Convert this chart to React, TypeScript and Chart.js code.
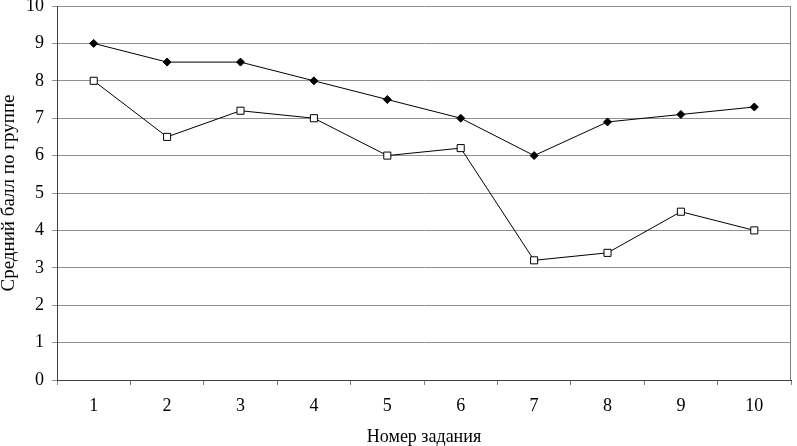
import React, { useEffect, useRef } from "react";
import { Chart, registerables } from "chart.js";

Chart.register(...registerables);

const categories = ["1", "2", "3", "4", "5", "6", "7", "8", "9", "10"];
const seriesA = [9, 8.5, 8.5, 8, 7.5, 7, 6, 6.9, 7.1, 7.3];
const seriesB = [8, 6.5, 7.2, 7, 6, 6.2, 3.2, 3.4, 4.5, 4];
const yTitle = "Средний балл по группе";
const xTitle = "Номер задания";

const FONT = "'Liberation Serif', 'Times New Roman', serif";

export default function App() {
  const ref = useRef<HTMLCanvasElement | null>(null);

  useEffect(() => {
    if (!ref.current) return;
    const chart = new Chart(ref.current, {
      type: "line",
      data: {
        labels: categories,
        datasets: [
          {
            data: seriesA,
            borderColor: "#000",
            borderWidth: 1,
            pointStyle: "rectRot",
            pointRadius: 4,
            pointBackgroundColor: "#000",
            pointBorderColor: "#000",
            pointBorderWidth: 1,
            tension: 0,
          },
          {
            data: seriesB,
            borderColor: "#000",
            borderWidth: 1,
            pointStyle: "rect",
            pointRadius: 5,
            pointBackgroundColor: "#fff",
            pointBorderColor: "#000",
            pointBorderWidth: 1,
            tension: 0,
          },
        ],
      },
      options: {
        animation: false,
        responsive: false,
        maintainAspectRatio: false,
        layout: { padding: { top: 6, right: 1, left: 0, bottom: 0 } },
        plugins: {
          legend: { display: false },
          tooltip: { enabled: false },
        },
        scales: {
          x: {
            type: "category",
            offset: true,
            grid: {
              offset: true,
              drawOnChartArea: false,
              drawTicks: true,
              tickLength: 5,
              color: "#808080",
            },
            border: { color: "#404040", width: 1 },
            ticks: {
              color: "#000",
              font: { family: FONT, size: 18 },
              padding: 10,
              maxRotation: 0,
            },
            title: {
              display: true,
              text: xTitle,
              color: "#000",
              font: { family: FONT, size: 18, lineHeight: 1 },
              padding: { top: 0, bottom: 0 },
            },
            afterFit: (s: any) => {
              s.height = 66;
              s.paddingLeft = 0;
              s.paddingRight = 0;
            },
          },
          y: {
            min: 0,
            max: 10,
            ticks: {
              stepSize: 1,
              color: "#000",
              font: { family: FONT, size: 18 },
              padding: 8,
            },
            grid: {
              color: "#909090",
              tickLength: 5,
              drawTicks: true,
            },
            border: { color: "#404040", width: 1 },
            title: {
              display: true,
              text: yTitle,
              color: "#000",
              font: { family: FONT, size: 19, lineHeight: 1 },
              padding: { top: 0, bottom: 0 },
            },
            afterFit: (s: any) => {
              s.width = 57;
              s.paddingTop = 0;
              s.paddingBottom = 0;
            },
          },
        },
      },
      plugins: [
        {
          id: "rightBorder",
          afterDraw: (c: any) => {
            const { ctx, chartArea } = c;
            ctx.save();
            ctx.strokeStyle = "#808080";
            ctx.lineWidth = 1;
            ctx.beginPath();
            ctx.moveTo(Math.round(chartArea.right) - 0.5, chartArea.top);
            ctx.lineTo(Math.round(chartArea.right) - 0.5, chartArea.bottom);
            ctx.stroke();
            ctx.restore();
          },
        },
      ],
    });
    return () => chart.destroy();
  }, []);

  return (
    <div style={{ position: "absolute", left: 0, top: 0, width: 797, height: 446, background: "#fff" }}>
      <canvas ref={ref} width={797} height={446} style={{ display: "block" }} />
    </div>
  );
}
